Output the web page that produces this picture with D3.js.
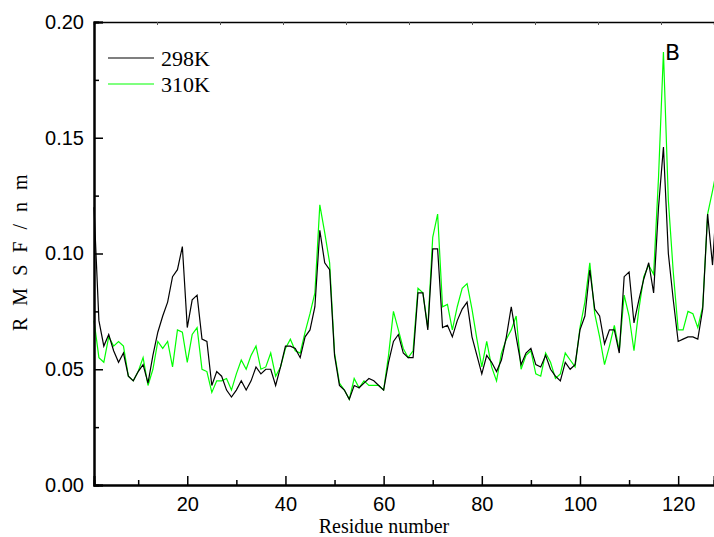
<!DOCTYPE html>
<html>
<head>
<meta charset="utf-8">
<script src="https://cdn.jsdelivr.net/npm/d3@7/dist/d3.min.js"></script>
<style>
  html, body { margin: 0; padding: 0; background: #fff; }
  svg { display: block; }
</style>
</head>
<body>
<div id="chart"></div>
<script>
// RMSF per residue
var rmsf298 = [
	0.120, 0.071, 0.060, 0.065, 0.058, 0.053, 0.057, 0.047, 0.045, 0.049,
	0.052, 0.044, 0.056, 0.066, 0.073, 0.079, 0.090, 0.093, 0.103, 0.068,
	0.080, 0.082, 0.063, 0.062, 0.043, 0.049, 0.047, 0.041, 0.038, 0.041,
	0.045, 0.041, 0.045, 0.051, 0.048, 0.050, 0.050, 0.043, 0.051, 0.060,
	0.060, 0.059, 0.055, 0.064, 0.067, 0.077, 0.110, 0.096, 0.093, 0.056,
	0.043, 0.041, 0.037, 0.043, 0.042, 0.044, 0.046, 0.045, 0.043, 0.041,
	0.053, 0.062, 0.065, 0.057, 0.055, 0.055, 0.083, 0.083, 0.067, 0.102,
	0.102, 0.068, 0.069, 0.064, 0.071, 0.076, 0.079, 0.064, 0.056, 0.048,
	0.056, 0.053, 0.049, 0.054, 0.064, 0.077, 0.064, 0.052, 0.057, 0.059,
	0.052, 0.051, 0.056, 0.050, 0.047, 0.045, 0.053, 0.050, 0.052, 0.067,
	0.073, 0.093, 0.076, 0.073, 0.061, 0.067, 0.067, 0.057, 0.090, 0.092,
	0.070, 0.080, 0.089, 0.096, 0.083, 0.120, 0.146, 0.100, 0.080, 0.062,
	0.063, 0.064, 0.064, 0.063, 0.076, 0.117, 0.095, 0.128
];
var rmsf310 = [
	0.071, 0.055, 0.053, 0.064, 0.060, 0.062, 0.060, 0.047, 0.045, 0.049,
	0.055, 0.043, 0.050, 0.062, 0.059, 0.062, 0.051, 0.067, 0.066, 0.053,
	0.065, 0.068, 0.050, 0.049, 0.040, 0.045, 0.045, 0.046, 0.041, 0.048,
	0.054, 0.050, 0.056, 0.060, 0.050, 0.051, 0.057, 0.047, 0.051, 0.059,
	0.063, 0.058, 0.057, 0.066, 0.074, 0.083, 0.121, 0.109, 0.096, 0.057,
	0.044, 0.041, 0.037, 0.046, 0.042, 0.045, 0.043, 0.043, 0.043, 0.041,
	0.056, 0.075, 0.067, 0.059, 0.055, 0.058, 0.085, 0.083, 0.068, 0.107,
	0.117, 0.077, 0.078, 0.067, 0.077, 0.085, 0.087, 0.076, 0.063, 0.051,
	0.062, 0.051, 0.045, 0.057, 0.063, 0.067, 0.073, 0.050, 0.056, 0.058,
	0.048, 0.047, 0.057, 0.053, 0.046, 0.048, 0.057, 0.054, 0.051, 0.068,
	0.079, 0.096, 0.074, 0.064, 0.052, 0.060, 0.069, 0.058, 0.082, 0.073,
	0.058, 0.076, 0.090, 0.095, 0.091, 0.133, 0.187, 0.123, 0.092, 0.067,
	0.067, 0.075, 0.074, 0.068, 0.077, 0.117, 0.127, 0.138
];
var seriesNames = ['298K', '310K'];
var seriesColors = ['#000000', '#00ff00'];
var xMajorTicks = [20, 40, 60, 80, 100, 120];
var xMinorTicks = [10, 30, 50, 70, 90, 110];
var yMajorTicks = [0, 0.05, 0.10, 0.15, 0.20];
var yMinorTicks = [0.025, 0.075, 0.125, 0.175];

var rmsfChart = {
	W : 714, H : 537,
	plotLeft : 94, plotRight : 714, plotTop : 22, plotBottom : 485,

	styleAxis : function(g, w){
		g.select('.domain').attr('stroke', '#000').attr('stroke-width', w);
		g.selectAll('.tick line').attr('stroke', '#000').attr('stroke-width', 1.5);
		g.selectAll('text')
			.attr('fill', '#000')
			.attr('font-family', '"Liberation Sans", Arial, sans-serif')
			.attr('font-size', 20);
	},

	draw : function(){
		let L = this.plotLeft, R = this.plotRight, T = this.plotTop, B = this.plotBottom;
		let svg = d3.select('#chart').append('svg')
			.attr('width', this.W)
			.attr('height', this.H);

		let x = d3.scaleLinear().domain([1, 127.3]).range([L, R]);
		let y = d3.scaleLinear().domain([0, 0.20]).range([B, T]);

		// lines (green under black)
		let line = d3.line()
			.x(function(d, i){ return x(i + 1); })
			.y(function(d){ return y(d); });

		svg.append('path')
			.datum(rmsf310)
			.attr('d', line)
			.attr('fill', 'none')
			.attr('stroke', seriesColors[1])
			.attr('stroke-width', 1.2);
		svg.append('path')
			.datum(rmsf298)
			.attr('d', line)
			.attr('fill', 'none')
			.attr('stroke', seriesColors[0])
			.attr('stroke-width', 1.2);

		// top axis: small marks only
		let xTop = d3.scaleLinear().domain([0, (R - L) / 63]).range([L, R]);
		let gTop = svg.append('g')
			.attr('transform', 'translate(0,' + T + ')')
			.call(d3.axisTop(xTop).tickValues([1, 2, 3, 4, 5, 6, 7, 8, 9]).tickSize(-3).tickFormat(''));
		this.styleAxis(gTop, 1.4);
		gTop.selectAll('.tick line').attr('stroke-width', 1).attr('stroke', '#555');

		let gxMin = svg.append('g')
			.attr('transform', 'translate(0,' + B + ')')
			.call(d3.axisBottom(x).tickValues(xMinorTicks).tickSize(-5).tickFormat(''));
		this.styleAxis(gxMin, 2);
		let gx = svg.append('g')
			.attr('transform', 'translate(0,' + B + ')')
			.call(d3.axisBottom(x).tickValues(xMajorTicks).tickSize(-9).tickPadding(12).tickFormat(d3.format('d')));
		this.styleAxis(gx, 2);

		let gyMin = svg.append('g')
			.attr('transform', 'translate(' + L + ',0)')
			.call(d3.axisLeft(y).tickValues(yMinorTicks).tickSize(-5).tickFormat(''));
		this.styleAxis(gyMin, 2);
		let gy = svg.append('g')
			.attr('transform', 'translate(' + L + ',0)')
			.call(d3.axisLeft(y).tickValues(yMajorTicks).tickSize(-9).tickPadding(10).tickFormat(d3.format('.2f')));
		this.styleAxis(gy, 2);

		// axis titles
		svg.append('text')
			.attr('x', 384)
			.attr('y', 533)
			.attr('text-anchor', 'middle')
			.attr('font-family', '"Liberation Serif", "Times New Roman", serif')
			.attr('font-size', 20)
			.text('Residue number');

		svg.append('text')
			.attr('transform', 'translate(27,251) rotate(-90)')
			.attr('text-anchor', 'middle')
			.attr('font-family', '"Liberation Serif", "Times New Roman", serif')
			.attr('font-size', 20)
			.attr('letter-spacing', 3.5)
			.text('R M S F / n m');

		// legend
		let legendY = [58, 84];
		seriesNames.forEach(function(name, i){
			svg.append('line')
				.attr('x1', 108).attr('x2', 154)
				.attr('y1', legendY[i]).attr('y2', legendY[i])
				.attr('stroke', seriesColors[i])
				.attr('stroke-width', 1.2);
			svg.append('text')
				.attr('x', 161)
				.attr('y', legendY[i] + 7.5)
				.attr('font-family', '"Liberation Serif", "Times New Roman", serif')
				.attr('font-size', 22)
				.text(name);
		});

		// panel letter
		svg.append('text')
			.attr('x', 665)
			.attr('y', 60)
			.attr('font-family', '"DejaVu Sans", sans-serif')
			.attr('font-size', 22)
			.text('B');
	}
};

rmsfChart.draw();
</script>
</body>
</html>
